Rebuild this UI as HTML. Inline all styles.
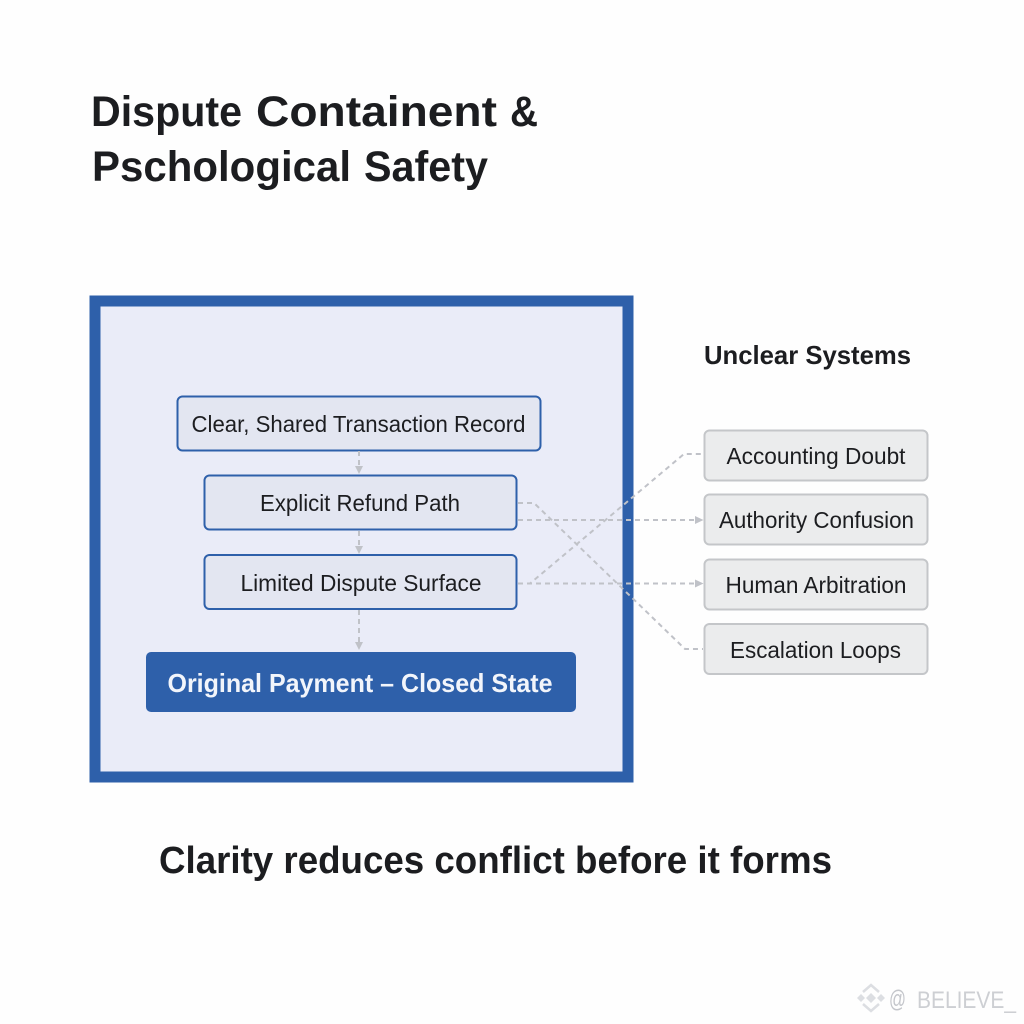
<!DOCTYPE html>
<html><head><meta charset="utf-8"><style>
html,body{margin:0;padding:0;background:#fff}
svg{display:block}
text{font-family:"Liberation Sans",sans-serif;fill:#1c1d20}
</style></head><body>
<svg width="1024" height="1024" viewBox="0 0 1024 1024" xmlns="http://www.w3.org/2000/svg">
<rect width="1024" height="1024" fill="#fefefe"/>
<g font-size="43" font-weight="700">
<text x="91" y="126" textLength="151" lengthAdjust="spacingAndGlyphs">Dispute</text>
<text x="256" y="126" textLength="241" lengthAdjust="spacingAndGlyphs">Containent</text>
<text x="510" y="126" textLength="28" lengthAdjust="spacingAndGlyphs">&amp;</text>
<text x="92" y="181" textLength="259" lengthAdjust="spacingAndGlyphs">Pschological</text>
<text x="364" y="181" textLength="124" lengthAdjust="spacingAndGlyphs">Safety</text>
</g>
<rect x="95" y="301" width="533" height="476" fill="#eaecf8" stroke="#2e60aa" stroke-width="11"/>
<g fill="#e3e6f1" stroke="#2e60aa" stroke-width="2">
<rect x="177.500" y="396.500" width="363" height="54" rx="5"/>
<rect x="204.500" y="475.500" width="312" height="54" rx="5"/>
<rect x="204.500" y="555" width="312" height="54" rx="5"/>
</g>
<rect x="146" y="652" width="430" height="60" rx="5" fill="#2e60aa"/>
<g font-size="23" text-anchor="middle">
<text x="358.500" y="432" textLength="334" lengthAdjust="spacingAndGlyphs">Clear, Shared Transaction Record</text>
<text x="360" y="511" textLength="200" lengthAdjust="spacingAndGlyphs">Explicit Refund Path</text>
<text x="361" y="591" textLength="241" lengthAdjust="spacingAndGlyphs">Limited Dispute Surface</text>
</g>
<text x="360" y="692" font-size="26" font-weight="700" text-anchor="middle" style="fill:#f2f5fb" textLength="385" lengthAdjust="spacingAndGlyphs">Original Payment – Closed State</text>
<text x="704" y="364" font-size="26" font-weight="700" textLength="207" lengthAdjust="spacingAndGlyphs">Unclear Systems</text>
<g fill="#ebeced" stroke="#c4c6c9" stroke-width="2">
<rect x="704.500" y="430.500" width="223" height="50" rx="5"/>
<rect x="704.500" y="494.500" width="223" height="50" rx="5"/>
<rect x="704.500" y="559.500" width="223" height="50" rx="5"/>
<rect x="704.500" y="624" width="223" height="50" rx="5"/>
</g>
<g font-size="23" text-anchor="middle">
<text x="816" y="464" textLength="179" lengthAdjust="spacingAndGlyphs">Accounting Doubt</text>
<text x="816.500" y="528" textLength="195" lengthAdjust="spacingAndGlyphs">Authority Confusion</text>
<text x="816" y="593" textLength="181" lengthAdjust="spacingAndGlyphs">Human Arbitration</text>
<text x="815.500" y="658" textLength="171" lengthAdjust="spacingAndGlyphs">Escalation Loops</text>
</g>
<g fill="none" stroke="#c0c2c8" stroke-width="2" stroke-dasharray="5 4">
<path d="M359 451V467"/>
<path d="M359 531V547"/>
<path d="M359 610V643"/>
<path d="M518 520H697"/>
<path d="M518 583.500H697"/>
<path d="M518 583.500H530L684 454H703"/>
<path d="M518 503H534L685 649H703"/>
</g>
<g fill="#c0c2c8">
<path d="M355 466h8l-4 8z"/>
<path d="M355 546h8l-4 8z"/>
<path d="M355 642h8l-4 8z"/>
<path d="M695 516l8.500 4-8.500 4z"/>
<path d="M695 579.500l8.500 4-8.500 4z"/>
</g>
<g fill="#dcdee2">
<path d="M871 993l5 5-5 5-5-5z"/>
<path d="M861 994l4 4-4 4-4-4z"/>
<path d="M881 994l4 4-4 4-4-4z"/>
</g>
<g fill="none" stroke="#dcdee2" stroke-width="2.500">
<path d="M863 992l8-7 8 7"/>
<path d="M863 1004l8 7 8-7"/>
</g>
<text x="889" y="1007" font-size="24" style="fill:#c4c6cb" textLength="17" lengthAdjust="spacingAndGlyphs">@</text>
<text x="917" y="1008" font-size="24" style="fill:#cdcfd3" textLength="99" lengthAdjust="spacingAndGlyphs">BELIEVE_</text>
<text x="159" y="873" font-size="38" font-weight="700" textLength="673" lengthAdjust="spacingAndGlyphs">Clarity reduces conflict before it forms</text>
</svg>
</body></html>
